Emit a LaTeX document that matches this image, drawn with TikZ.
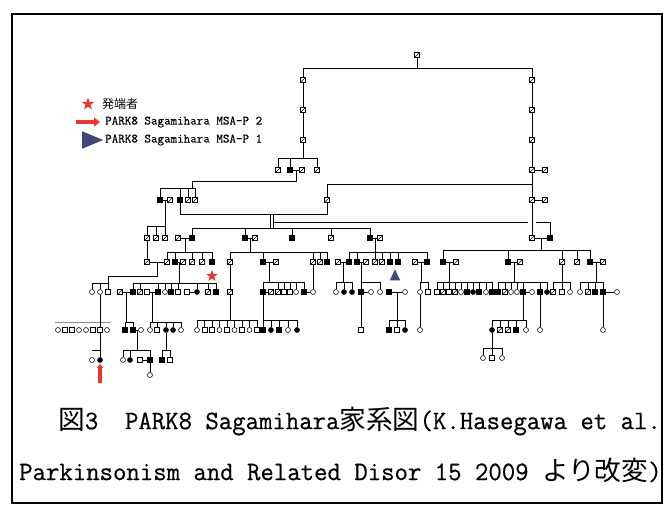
\documentclass[tikz,border=0pt]{standalone}
\usepackage{fontspec}
\setmainfont{Liberation Serif}
\newfontfamily\cjk{Noto Sans CJK JP}
\newfontfamily\capmono[FakeStretch=0.975,FakeBold=0.6]{Latin Modern Mono}
\newfontfamily\legmono[FakeBold=0.4]{Latin Modern Mono}
\usetikzlibrary{calc,shapes.geometric,arrows.meta}
\definecolor{legred}{RGB}{232,56,45}
\definecolor{legblue}{RGB}{62,72,122}
\tikzset{
 pline/.style={line width=0.7pt},
 sym/.style={inner sep=0pt, minimum size=5pt, draw=black, line width=0.55pt},
 psq/.style={sym,rectangle},
 paff/.style={sym,rectangle,fill=black},
 pdec/.style={sym,rectangle,path picture={\draw[line width=0.6pt] (path picture bounding box.south west)--(path picture bounding box.north east);}},
 pci/.style={sym,circle},
 pcia/.style={sym,circle,fill=black},
}
\newcommand\pedfam[5]{%
 \draw[pline] (#1) -- (#1 |- 0,#2);
 \draw[pline] (#3.north |- 0,#2) -- (#4.north |- 0,#2);
 \foreach \c in {#5}{\draw[pline] (\c.north) -- (\c.north |- 0,#2);}
}
\newcommand\wed[3]{\draw[pline] (#1) -- (#2) coordinate[midway] (#3);}
\begin{document}
\begin{tikzpicture}[x=1pt,y=-1pt]
\useasboundingbox (0,0) rectangle (670,505);
\draw[line width=1.3pt] (12,14) rectangle (662,503);

% ---------- legend ----------
\node[star, star points=5, star point ratio=2.4, fill=legred, inner sep=0pt, minimum size=13pt] (lstar) at (88,104) {};
\node[anchor=west, inner sep=0pt, font=\cjk\fontsize{12}{13}\selectfont] (lstartxt) at (102,104) {発端者};
\coordinate (la1) at (76,122); \coordinate (la2) at (100,122);
\draw[legred, line width=4pt, -{Triangle[length=6pt,width=9pt]}] (la1) -- (la2);
\node[anchor=west, inner sep=0pt, font=\legmono\fontsize{12.7}{14}\selectfont] (larrtxt) at (105,122) {PARK8 Sagamihara MSA-P 2};
\node[isosceles triangle, isosceles triangle apex angle=45, fill=legblue, minimum height=21pt, minimum width=11pt, inner sep=0pt] (ltri) at (88,140) {};
\node[anchor=west, inner sep=0pt, font=\legmono\fontsize{12.7}{14}\selectfont] (ltritxt) at (105,140) {PARK8 Sagamihara MSA-P 1};

% ---------- generations 1-6 ----------
\node[pdec] (t0) at (417,55) {};
\node[pdec] (l2) at (303,80) {};  \node[pdec] (r2) at (532,80) {};
\node[pdec] (l3) at (303,110) {}; \node[pdec] (r3) at (532,110) {};
\node[pdec] (l4) at (303,140) {}; \node[pdec] (r4) at (532,140) {};
\draw[pline] (t0.south) -- (t0.south |- 0,68);
\draw[pline] (l2.north |- 0,68) -- (r2.north |- 0,68);
\draw[pline] (l2.north) -- (l2.north |- 0,68);
\draw[pline] (r2.north) -- (r2.north |- 0,68);
\draw[pline] (l2) -- (l3); \draw[pline] (l3) -- (l4);
\draw[pline] (r2) -- (r3); \draw[pline] (r3) -- (r4);

\foreach \nm/\xx/\st in {a5/278/pdec, b5/290/paff, c5/302/pdec, d5/317/pdec, r5/532/pdec, r5s/545/pdec}
  {\node[style=\st] (\nm) at (\xx,170) {};}
\pedfam{l4.south}{158}{a5}{d5}{a5,b5,d5}
\wed{b5}{c5}{m5}
\draw[pline] (r4) -- (r5);
\wed{r5}{r5s}{mr5}

\foreach \nm/\xx/\st in {a6/160/paff, a6s/170/pdec, b6/180/paff, c6/188/pdec, d6/195/pdec, m6/327/pdec, r6/532/pdec, r6s/545/pdec}
  {\node[style=\st] (\nm) at (\xx,200) {};}
\coordinate (j6) at (192,188);
\draw[pline] (m5) -- (m5 |- 0,181) -| (j6);
\draw[pline] (a6.north |- 0,188) -- (d6.north |- 0,188);
\foreach \c in {a6,b6,c6,d6}{\draw[pline] (\c.north) -- (\c.north |- 0,188);}
\draw[pline] (r5) -- (r6);
\draw[pline] (m6.north) |- (r6 |- 0,184);
\wed{r6}{r6s}{mr6}
\wed{a6}{a6s}{ma6}

% ---------- generation 7 ----------
\foreach \nm/\xx/\st in {a7/147/pdec, b7/156/pdec, c7/165/pdec, d7s/178/pdec, d7/192/paff, e7/245/paff, e7s/255/pdec, f7/292/paff, g7/331/pdec, h7/370/paff, h7s/380/pdec, r7/532/pdec, r7b/550/paff}
  {\node[style=\st] (\nm) at (\xx,238) {};}
\pedfam{ma6}{226}{a7}{c7}{a7,b7,c7}
\draw[pline] (b6.south) -- (b6.south |- 0,214) -- (m6.south |- 0,214) -- (m6.south);
\coordinate (dvt) at (272,214); \coordinate (dvb) at (272,228);
\draw[pline] ([xshift=-1.5pt]dvt) -- ([xshift=-1.5pt]dvb);
\draw[pline] ([xshift=1.5pt]dvt) -- ([xshift=1.5pt]dvb);
\draw[pline] (d7.north |- 0,228) -- (h7.north |- 0,228);
\foreach \c in {d7,e7,f7,g7,h7}{\draw[pline] (\c.north) -- (\c.north |- 0,228);}
\draw[pline] ([xshift=1.5pt]dvt |- 0,222) -- ([xshift=-4pt]r7.north |- 0,222);
\draw[pline] ([xshift=4pt]r7.north |- 0,222) -| (r7b.north);
\draw[pline] (r6) -- (r7);
\wed{d7s}{d7}{md7}
\wed{e7}{e7s}{me7}
\wed{h7}{h7s}{mh7}
\wed{r7}{r7b}{mr7}

% ---------- generation 8 ----------
\foreach \nm/\xx/\st in {a8/147/pdec, b8/167/pdec, c8/175/paff, c8s/183/pdec, d8/192/pdec, e8/202/pdec, f8/212/paff,
  g8/230/pdec, h8/263/paff, h8s/276/pdec, i8/313/pdec, j8/320/pdec, k8/327/paff,
  l8s/338/pdec, l8/349/paff, n8/357/paff, n8s/366/pdec, o8/375/pdec, p8/382/pdec, q8/390/paff, s8/398/paff, u8s/415/pdec, u8/427/paff,
  v8/443/paff, v8s/456/pdec, w8/508/paff, w8s/520/pdec, x8/562/pdec, y8/577/pdec, z8/590/paff, z8s/603/pdec}
  {\node[style=\st] (\nm) at (\xx,262) {};}
\draw[pline] (a7) -- (a8);
\pedfam{md7}{252}{b8}{f8}{b8,c8,d8,e8,f8}
\pedfam{me7}{252}{g8}{k8}{g8,h8,i8,j8,k8}
\pedfam{mh7}{252}{l8}{u8}{l8,n8,o8,p8,q8,s8,u8}
\pedfam{mr7}{250}{v8}{z8}{v8,w8,x8,y8,z8}
\wed{a8}{b8}{ma8}
\wed{c8}{c8s}{mc8}
\wed{h8}{h8s}{mh8}
\wed{l8s}{l8}{ml8}
\wed{n8}{n8s}{mn8}
\wed{u8s}{u8}{mu8}
\wed{v8}{v8s}{mv8}
\wed{w8}{w8s}{mw8}
\wed{z8}{z8s}{mz8}
\node[star, star points=5, star point ratio=2.4, fill=legred, inner sep=0pt, minimum size=12pt] (pstar) at (212,276) {};

% ---------- generation 9 ----------
\foreach \nm/\xx/\st in {a9/92/pci, b9/100/pci, c9/108/psq,
  d9s/120/pdec, d9/133/paff, e9/140/pdec, f9s/147/psq, f9/158/paff, g9/165/pci, h9/171/paff, i9/178/psq, j9s/187/psq, j9/197/pcia, k9/208/pdec, l9/216/paff,
  m9/230/pdec, n9/263/paff, n9s/271/pdec, o9/278/pdec, p9/284/psq, q9/290/psq, r9/296/pci, s9/304/paff, s9s/313/pci,
  t9/336/pci, u9/344/pcia, v9/352/pcia, w9/361/paff, w9s/371/pci, x9/380/pci,
  y9/389/paff, y9s/405/pci, z9/420/pci, z9b/428/psq,
  va/437/psq, vb/443/pdec, vc/449/psq, vd/455/pdec, ve/461/pci, vf/467/paff, vg/473/pcia, vh/479/paff, vi/486/pci, vj/492/paff,
  wa/498/paff, wb/505/pdec, wc/511/pci, wd/517/pci, we/523/paff, wes/532/pci, wf/540/paff, wg/547/pcia,
  xa/553/pdec, xb/562/psq, xc/570/pci,
  za/580/pci, zb/588/pdec, zc/595/paff, zd/603/paff, zds/617/pci}
  {\node[style=\st] (\nm) at (\xx,292) {};}
\draw[pline] (ma8) -- (ma8 |- 0,276) -| (c9.north);
\draw[pline] (a9.north |- 0,283) -- (c9.north |- 0,283);
\foreach \c in {a9,b9}{\draw[pline] (\c.north) -- (\c.north |- 0,283);}
\pedfam{mc8}{283}{d9}{l9}{d9,e9,f9,g9,h9,i9,j9,k9,l9}
\draw[pline] (g8) -- (m9);
\pedfam{mh8}{282}{n9}{s9}{n9,o9,p9,q9,r9,s9}
\draw[pline] (i8) -- (s9s);
\pedfam{ml8}{282}{t9}{v9}{t9,u9,v9}
\pedfam{mn8}{282}{w9}{x9}{w9,x9}
\pedfam{mu8}{282}{z9}{z9b}{z9,z9b}
\pedfam{mv8}{282}{va}{vj}{va,vb,vc,vd,ve,vf,vg,vh,vi,vj}
\pedfam{mw8}{282}{wa}{wg}{wa,wb,wc,wd,we,wf,wg}
\pedfam{x8.south}{282}{xa}{xc}{xa,xb,xc}
\pedfam{mz8}{282}{za}{zd}{za,zb,zc,zd}
\wed{d9s}{d9}{md9}
\wed{f9s}{f9}{mf9}
\wed{j9s}{j9}{mj9}
\wed{n9}{n9s}{mn9}
\wed{s9}{s9s}{ms9}
\wed{w9}{w9s}{mw9}
\wed{y9}{y9s}{my9}
\wed{we}{wes}{mwe}
\wed{zd}{zds}{mzd}
\node[isosceles triangle, shape border rotate=90, isosceles triangle apex angle=50, fill=legblue, minimum height=11pt, minimum width=8pt, inner sep=0pt] (ptri) at (395,277) {};

% ---------- generation 10 ----------
\foreach \nm/\xx/\st in {ga/58/pci, gb/65/psq, gc/72/psq, gd/79/pci, ge/86/pci, gf/93/psq, gg/100/psq, gh/107/pci,
  ha/125/paff, hb/133/paff, hbs/141/pci, ia/150/pci, ib/157/psq, ic/166/pcia, id/173/pcia, ie/181/pci,
  ja/197/pci, jb/204.5/psq, jc/212/psq, jd/219.5/pci, je/227/psq, jf/234.5/pci, jg/242/psq, jh/249.5/pci, ji/257/psq,
  ka/263/paff, kb/271/pcia, kc/279/paff, kd/288/pci, ke/297/pcia,
  la/361/psq, ma/389/paff, mb/397/psq, mc/405/pcia, na/420/pci,
  oa/492/pcia, ob/500/pdec, oc/508/pdec, od/516/paff, oe/526/pci, pa/540/pci, qa/603/pci}
  {\node[style=\st] (\nm) at (\xx,330) {};}
\coordinate (gl1) at (55,322); \coordinate (gl2) at (111,322);
\draw[black!45, line width=0.5pt] (gl1) -- (gl2);
\draw[pline] (b9) -- (gg);
\pedfam{md9}{322}{ha}{hb}{ha,hb}
\pedfam{mf9}{322}{ia}{ie}{ia,ib,ic,id,ie}
\pedfam{m9.south}{320}{ja}{ji}{ja,jb,jc,jd,je,jf,jg,jh,ji}
\pedfam{n9.south}{320}{ka}{ke}{ka,kb,kc,kd,ke}
\draw[pline] (w9) -- (la);
\pedfam{my9}{320}{ma}{mc}{ma,mb,mc}
\draw[pline] (z9) -- (na);
\pedfam{we.south}{320}{oa}{oe}{oa,ob,oc,od,oe}
\draw[pline] (wf) -- (pa);
\draw[pline] (zd) -- (qa);
\wed{hb}{hbs}{mhb}

% ---------- generations 11-12 ----------
\foreach \nm/\xx/\st in {ra/92/pci, rb/100/pcia, sa/123/pci, sb/130/pcia, scs/140/psq, sc/150/paff, ta/162/paff, tb/170/psq}
  {\node[style=\st] (\nm) at (\xx,360) {};}
\foreach \nm/\xx/\st in {ua/483/pci, ub/492/psq, uc/502/pci}
  {\node[style=\st] (\nm) at (\xx,358) {};}
\node[pci] (vz) at (150,375) {};
\draw[pline] (gg) -- (rb);
\draw[pline] (rb.north |- 0,350) -- (ra.north |- 0,350);
\pedfam{mhb}{350}{sa}{sc}{sa,sb,sc}
\wed{scs}{sc}{msc}
\pedfam{ic.south}{350}{ta}{tb}{ta,tb}
\pedfam{oa.south}{348}{ua}{uc}{ua,ub,uc}
\draw[pline] (sc) -- (vz);
\coordinate (rarrow) at (100,383);
\draw[legred, line width=3.2pt, -{Triangle[length=4pt,width=6pt]}] (rarrow) -- ([yshift=-1pt]rb.south);

% ---------- caption ----------
\node[anchor=west, inner sep=0pt] (cap1) at (58,421)
  {\fontsize{26.7}{30}\selectfont\cjk 図\capmono 3\cjk　\capmono PARK8 Sagamihara\cjk 家系図\capmono (K.Hasegawa et al.};
\node[anchor=west, inner sep=0pt] (cap2) at (19,470)
  {\fontsize{26.7}{30}\selectfont\capmono Parkinsonism and Related Disor 15 2009 \cjk より改変\capmono )};
\end{tikzpicture}
\end{document}
